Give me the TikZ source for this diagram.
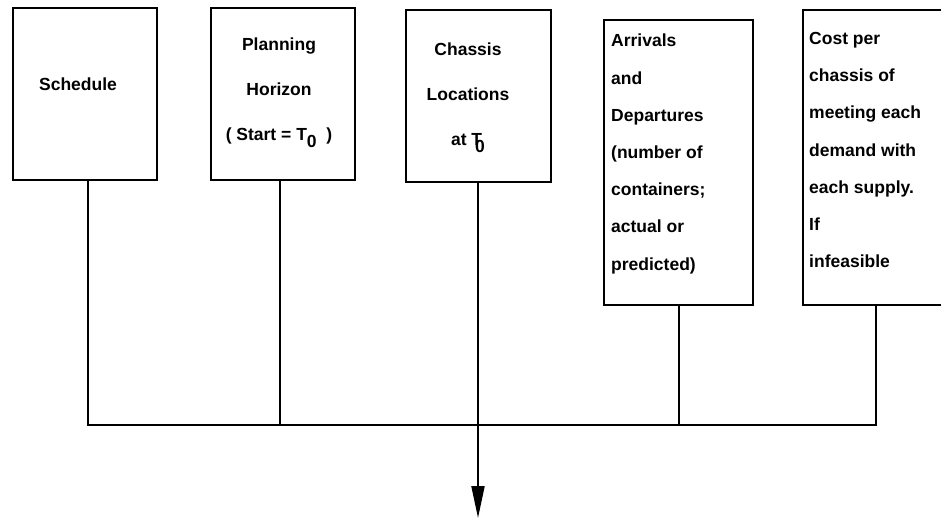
\documentclass[tikz,border=0pt]{standalone}
\usepackage{fontspec}
\setmainfont{Liberation Sans}
\usetikzlibrary{arrows.meta}
\begin{document}
\begin{tikzpicture}[x=1pt,y=-1pt,
  inbox/.style={draw=black, line width=2pt, fill=none, inner sep=0pt, anchor=north west},
  ctext/.style={inner sep=0pt, align=center, font=\fontsize{17.5}{45}\selectfont\bfseries},
  ltext/.style={inner sep=0pt, align=left, anchor=west, font=\fontsize{17.5}{37.2}\selectfont\bfseries},
  wire/.style={line width=2pt, line cap=rect}]
\clip (0,0) rectangle (941,520);

% input boxes
\node[inbox, minimum width=144pt, minimum height=172pt] (b1) at (12,7) {};
\node[inbox, minimum width=144pt, minimum height=172pt] (b2) at (210,7) {};
\node[inbox, minimum width=145pt, minimum height=172pt] (b3) at (405,9) {};
\node[inbox, minimum width=149pt, minimum height=285pt] (b4) at (603,19) {};
\node[inbox, minimum width=160pt, minimum height=295pt] (b5) at (802,9) {};

% box contents
\node[ctext] (t1) at (78,84) {Schedule};
\node[ctext] (t2) at (279,93) {Planning\\Horizon\\( Start = T\raisebox{-7pt}{0}\ \ )};
\node[ctext] (t3) at (468,98) {Chassis\\Locations\\at T\kern-7pt\raisebox{-7pt}{0}};
\node[ltext] (t4) at (611,154) {Arrivals\\and\\Departures\\(number of\\containers;\\actual or\\predicted)};
\node[ltext] (t5) at (809,150) {Cost per\\chassis of\\meeting each\\demand with\\each supply.\\If\\infeasible};

% collecting bus and output arrow
\coordinate (busL) at (88,425);
\coordinate (busR) at (876,425);
\coordinate (out) at (478,518);
\draw[wire] (b1.south -| busL) -- (busL) -- (busR) -- (b5.south -| busR);
\draw[wire] (b2.south -| 280,0) -- (280,425);
\draw[wire] (b4.south -| 679,0) -- (679,425);
\draw[line width=2pt, -{Triangle[length=32pt,width=13pt]}] (b3.south -| out) -- (out);
\end{tikzpicture}
\end{document}
